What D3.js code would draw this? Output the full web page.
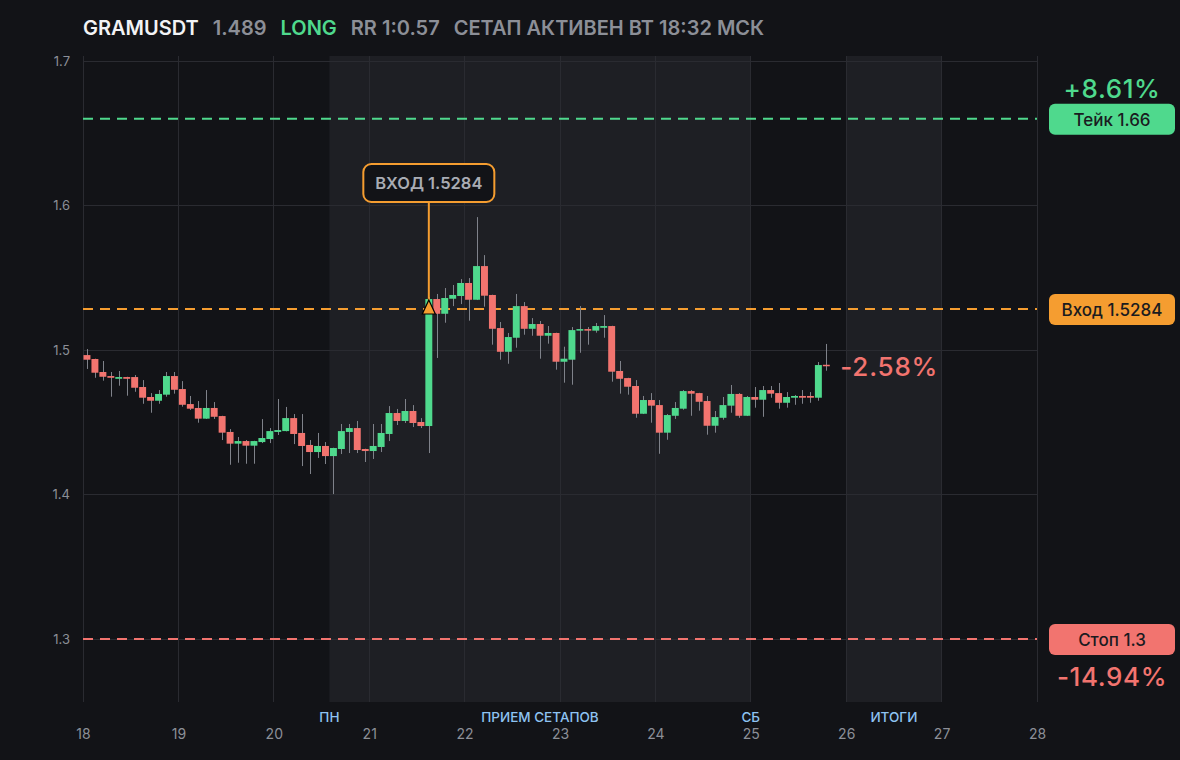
<!DOCTYPE html>
<html><head><meta charset="utf-8">
<script src="https://cdn.jsdelivr.net/npm/d3@7/dist/d3.min.js"></script>
<style>
html,body{margin:0;padding:0;background:#121317;}
svg{display:block;font-family:Inter,"Noto Sans",sans-serif;}
</style>
</head><body>
<svg id="chart" width="1180" height="760"></svg>
<script>
// ---------- DATA ----------
const symbol = "GRAMUSDT";
const lastPrice = 1.489;
const side = "LONG";
const rrText = "RR 1:0.57";
const statusText = "СЕТАП АКТИВЕН ВТ 18:32 МСК";
const entryPrice = 1.5284;
const takePrice = 1.66;
const stopPrice = 1.3;
const entryCandleIndex = 43;           // 0-based candle where entry happened
const firstDay = 18;                   // first candle opens at day 18 00:00
const candleHours = 2;
const dayTicks = [18,19,20,21,22,23,24,25,26,27,28];
const priceTicks = [1.3,1.4,1.5,1.6,1.7];
const sessionBands = [[20.583,25],[26,27]];
const sessionLabels = [
  {day:20.583, text:"ПН"},
  {day:22.79, text:"ПРИЕМ СЕТАПОВ"},
  {day:25, text:"СБ"},
  {day:26.5, text:"ИТОГИ"}
];
const openP  = [1.4965,1.4938,1.4848,1.4820,1.4801,1.4813,1.4813,1.4744,1.4675,1.4649,1.4691,1.4820,1.4730,1.4626,1.4599,1.4525,1.4599,1.4543,1.4433,1.4352,1.4370,1.4338,1.4363,1.4384,1.4433,1.4439,1.4529,1.4426,1.4343,1.4294,1.4336,1.4266,1.4315,1.4433,1.4460,1.4315,1.4301,1.4329,1.4419,1.4564,1.4509,1.4578,1.4502,1.4474,1.5353,1.5251,1.5355,1.5374,1.5464,1.5348,1.5581,1.5381,1.5152,1.4988,1.5085,1.5304,1.5147,1.5180,1.5099,1.5118,1.4919,1.4933,1.5134,1.5145,1.5134,1.5154,1.5166,1.4855,1.4806,1.4751,1.4559,1.4654,1.4619,1.4428,1.4545,1.4594,1.4716,1.4702,1.4647,1.4476,1.4531,1.4615,1.4696,1.4545,1.4675,1.4656,1.4723,1.4702,1.4635,1.4670,1.4682,1.4682,1.4670,1.4898];
const highP  = [1.5007,1.4940,1.4924,1.4848,1.4855,1.4815,1.4827,1.4792,1.4702,1.4723,1.4848,1.4848,1.4785,1.4682,1.4647,1.4723,1.4640,1.4545,1.4453,1.4398,1.4377,1.4372,1.4522,1.4460,1.4661,1.4606,1.4557,1.4557,1.4377,1.4426,1.4363,1.4324,1.4488,1.4488,1.4509,1.4317,1.4488,1.4488,1.4612,1.4592,1.4661,1.4619,1.4529,1.5367,1.5388,1.5429,1.5450,1.5491,1.5498,1.5920,1.5657,1.5383,1.5194,1.5118,1.5388,1.5332,1.5221,1.5201,1.5166,1.5120,1.5023,1.5159,1.5304,1.5159,1.5187,1.5242,1.5168,1.4924,1.4808,1.4792,1.4682,1.4702,1.4654,1.4557,1.4640,1.4723,1.4723,1.4704,1.4682,1.4578,1.4675,1.4758,1.4702,1.4682,1.4744,1.4751,1.4751,1.4772,1.4709,1.4689,1.4723,1.4709,1.4917,1.5042];
const lowP   = [1.4869,1.4808,1.4788,1.4677,1.4753,1.4684,1.4711,1.4628,1.4566,1.4628,1.4677,1.4698,1.4608,1.4585,1.4497,1.4523,1.4523,1.4377,1.4206,1.4220,1.4213,1.4213,1.4356,1.4356,1.4412,1.4437,1.4349,1.4197,1.4142,1.4253,1.4211,1.4003,1.4280,1.4287,1.4287,1.4225,1.4246,1.4294,1.4370,1.4481,1.4495,1.4467,1.4460,1.4287,1.4945,1.5189,1.5304,1.5318,1.5203,1.5346,1.5300,1.5037,1.4933,1.4905,1.5016,1.5106,1.5099,1.4940,1.5044,1.4864,1.4774,1.4760,1.4981,1.5037,1.5120,1.5085,1.4781,1.4698,1.4691,1.4531,1.4557,1.4497,1.4282,1.4379,1.4523,1.4587,1.4545,1.4580,1.4414,1.4428,1.4518,1.4566,1.4531,1.4543,1.4601,1.4538,1.4670,1.4594,1.4601,1.4621,1.4628,1.4635,1.4649,1.4857];
const closeP = [1.4933,1.4843,1.4815,1.4808,1.4813,1.4801,1.4739,1.4670,1.4649,1.4696,1.4820,1.4725,1.4621,1.4594,1.4525,1.4599,1.4538,1.4428,1.4352,1.4370,1.4338,1.4370,1.4391,1.4439,1.4446,1.4529,1.4419,1.4336,1.4294,1.4336,1.4266,1.4322,1.4439,1.4460,1.4308,1.4301,1.4336,1.4426,1.4564,1.4509,1.4578,1.4495,1.4474,1.5353,1.5251,1.5360,1.5381,1.5464,1.5348,1.5581,1.5376,1.5147,1.4988,1.5090,1.5304,1.5147,1.5180,1.5099,1.5118,1.4919,1.4940,1.5138,1.5145,1.5134,1.5166,1.5166,1.4850,1.4801,1.4746,1.4559,1.4654,1.4615,1.4428,1.4550,1.4599,1.4716,1.4698,1.4642,1.4476,1.4536,1.4619,1.4696,1.4545,1.4675,1.4656,1.4723,1.4698,1.4635,1.4675,1.4682,1.4670,1.4670,1.4896,1.4890];

// ---------- STYLE ----------
const C = {
  bg:"#121317", band:"#1e1f24", grid:"#2a2b31", axis:"#8c8f97",
  session:"#8ec3f2", green:"#4fd98d", red:"#f2746f", orange:"#f59d30",
  wick:"#7f828a", white:"#f2f3f5", dark:"#1a1b1f"
};
const M = {left:83, right:1037, top:56, bottom:702};

const svg = d3.select("#chart");
svg.append("rect").attr("width",1180).attr("height",760).attr("fill",C.bg);

const x = d3.scaleLinear().domain([18,28]).range([M.left,M.right]);
const y = d3.scaleLinear().domain([1.2564,1.7035]).range([M.bottom,M.top]);

const candles = openP.map((o,i)=>({
  t: firstDay + i*candleHours/24,
  o, h:highP[i], l:lowP[i], c:closeP[i]
}));
const half = candleHours/48;

// bands
svg.append("g").selectAll("rect").data(sessionBands).join("rect")
  .attr("x",d=>x(d[0])).attr("width",d=>x(d[1])-x(d[0]))
  .attr("y",M.top).attr("height",M.bottom-M.top).attr("fill",C.band);

// grid
const g = svg.append("g");
g.selectAll(".vg").data(dayTicks).join("line")
  .attr("x1",d=>x(d)).attr("x2",d=>x(d)).attr("y1",M.top).attr("y2",M.bottom)
  .attr("stroke",C.grid).attr("stroke-width",1).attr("shape-rendering","crispEdges");
g.selectAll(".hg").data(priceTicks).join("line")
  .attr("x1",M.left).attr("x2",M.right).attr("y1",d=>y(d)).attr("y2",d=>y(d))
  .attr("stroke",C.grid).attr("stroke-width",1).attr("shape-rendering","crispEdges");

// axes
const yAxis = d3.axisLeft(y).tickValues(priceTicks).tickFormat(d3.format(".1f")).tickSize(0).tickPadding(13);
svg.append("g").attr("transform",`translate(${M.left},0)`).call(yAxis)
  .call(a=>a.select(".domain").remove())
  .selectAll("text").attr("fill",C.axis).attr("font-size",13).attr("font-family","Inter");
const xAxis = d3.axisBottom(x).tickValues(dayTicks).tickFormat(d=>String(d)).tickSize(0).tickPadding(27);
svg.append("g").attr("transform",`translate(0,${M.bottom})`).call(xAxis)
  .call(a=>a.select(".domain").remove())
  .selectAll("text").attr("fill",C.axis).attr("font-size",14).attr("font-family","Inter");

// session labels
svg.append("g").selectAll("text").data(sessionLabels).join("text")
  .attr("x",d=>x(d.day)).attr("y",722).attr("text-anchor","middle")
  .attr("fill",C.session).attr("font-size",13.5).attr("font-weight",500).text(d=>d.text);

// level lines
const levels = [
  {p:takePrice, col:C.green},
  {p:entryPrice, col:C.orange},
  {p:stopPrice, col:C.red}
];
svg.append("g").selectAll("line").data(levels).join("line")
  .attr("x1",M.left).attr("x2",M.right).attr("y1",d=>y(d.p)).attr("y2",d=>y(d.p))
  .attr("stroke",d=>d.col).attr("stroke-width",2).attr("stroke-dasharray","10,7");

// candles
const cg = svg.append("g");
cg.selectAll(".wick").data(candles).join("line")
  .attr("x1",d=>Math.round(x(d.t+half))+0.5).attr("x2",d=>Math.round(x(d.t+half))+0.5)
  .attr("y1",d=>y(d.h)).attr("y2",d=>y(d.l)).attr("stroke",C.wick).attr("stroke-width",1);
const bw = x(firstDay+candleHours/24)-x(firstDay)-1;
cg.selectAll(".body").data(candles).join("rect")
  .attr("x",d=>x(d.t+half)-bw/2).attr("width",bw)
  .attr("y",d=>y(Math.max(d.o,d.c)))
  .attr("height",d=>Math.max(1.5,Math.abs(y(d.o)-y(d.c))))
  .attr("fill",d=>d.c>=d.o?C.green:C.red);

// entry annotation
const ec = candles[entryCandleIndex];
const ex = x(ec.t+half), ey = y(entryPrice);
const boxW = 131, boxH = 38, boxY = 164;
svg.append("line").attr("x1",ex).attr("x2",ex).attr("y1",boxY+boxH).attr("y2",ey-6)
  .attr("stroke",C.orange).attr("stroke-width",2);
svg.append("rect").attr("x",ex-boxW/2).attr("y",boxY).attr("width",boxW).attr("height",boxH)
  .attr("rx",8).attr("fill",C.bg).attr("stroke",C.orange).attr("stroke-width",2);
svg.append("text").attr("x",ex).attr("y",boxY+boxH/2+6).attr("text-anchor","middle")
  .attr("fill","#a9acb4").attr("font-size",16.5).attr("font-weight",600).text("ВХОД "+entryPrice);
svg.append("path").attr("d",`M${ex},${ey-9} L${ex+6.5},${ey+5} L${ex-6.5},${ey+5} Z`)
  .attr("fill",C.orange).attr("stroke","#000").attr("stroke-width",1.2);

// right side pills
const pct = p => (p/entryPrice-1)*100;
const pills = [
  {p:takePrice, text:"Тейк "+takePrice, col:C.green},
  {p:entryPrice, text:"Вход "+entryPrice, col:C.orange},
  {p:stopPrice, text:"Стоп "+stopPrice, col:C.red}
];
const pg = svg.append("g");
pg.selectAll("rect").data(pills).join("rect")
  .attr("x",1049).attr("width",126).attr("y",d=>y(d.p)-15).attr("height",31).attr("rx",6)
  .attr("fill",d=>d.col);
pg.selectAll("text").data(pills).join("text")
  .attr("x",1112).attr("y",d=>y(d.p)+7).attr("text-anchor","middle")
  .attr("fill",C.dark).attr("font-size",17).attr("font-weight",500).text(d=>d.text);

svg.append("text").attr("x",1112).attr("y",y(takePrice)-21).attr("text-anchor","middle")
  .attr("fill",C.green).attr("font-size",26).attr("font-weight",500).attr("letter-spacing",0.6)
  .text("+"+pct(takePrice).toFixed(2)+"%");
svg.append("text").attr("x",1112).attr("y",y(stopPrice)+47).attr("text-anchor","middle")
  .attr("fill",C.red).attr("font-size",26).attr("font-weight",500).attr("letter-spacing",0.6)
  .text(pct(stopPrice).toFixed(2)+"%");

// current pnl label
const last = candles[candles.length-1];
svg.append("text").attr("x",x(last.t+half)+14).attr("y",y(lastPrice)+10)
  .attr("fill",C.red).attr("font-size",26).attr("font-weight",500).attr("letter-spacing",0.8)
  .text(pct(lastPrice).toFixed(2)+"%");

// header
const header = [
  {text:symbol, col:C.white},
  {text:String(lastPrice), col:C.axis},
  {text:side, col:C.green},
  {text:rrText, col:C.axis},
  {text:statusText, col:C.axis}
];
let hx = 83;
header.forEach(h=>{
  const t = svg.append("text").attr("x",hx).attr("y",35).attr("fill",h.col)
    .attr("font-size",20).attr("font-weight",600).text(h.text);
  hx += t.node().getComputedTextLength() + 14;
});
</script>
</body></html>
